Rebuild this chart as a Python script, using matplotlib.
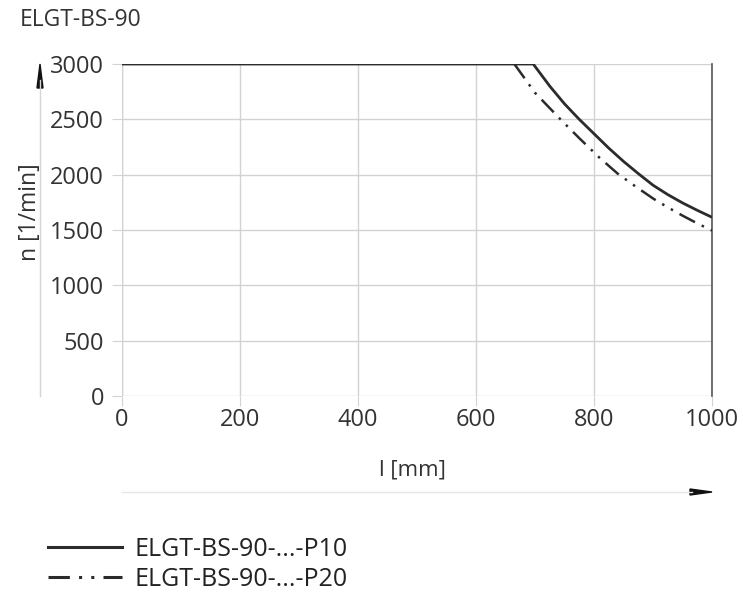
import numpy as np
from matplotlib import pyplot as plt

l_p10 = [0, 697, 725, 750, 775, 800, 825, 850, 875, 900, 925, 950, 975, 1000]
n_p10 = [3000, 3000, 2800, 2640, 2500, 2370, 2240, 2120, 2010, 1905, 1820, 1745, 1678, 1615]
l_p20 = [665, 700, 745, 775, 810, 840, 870, 900, 925, 950, 975, 1000]
n_p20 = [3000, 2740, 2490, 2330, 2150, 2010, 1895, 1785, 1705, 1630, 1560, 1495]

labels = ['ELGT-BS-90-...-P10', 'ELGT-BS-90-...-P20']
xticks = [0, 200, 400, 600, 800, 1000]
yticks = [0, 500, 1000, 1500, 2000, 2500, 3000]

W, H = 743, 598
plt.rcParams['font.family'] = ['Open Sans', 'DejaVu Sans']

def main():
    fig = plt.figure(figsize=(W / 100, H / 100), dpi=100)
    ax = fig.add_axes([122 / W, 1 - 396 / H, 590 / W, 332 / H])

    grid_col = '#d2d2d2'
    line_col = '#2b2b2b'
    ax.plot(l_p10, n_p10, color=line_col, lw=2.0, solid_capstyle='butt', zorder=3)
    ax.plot(l_p20, n_p20, color=line_col, lw=1.8, dashes=(7, 3, 1, 3, 1, 3), zorder=3)

    ax.set_xlim(0, 1000)
    ax.set_ylim(0, 3000)
    ax.set_xticks(xticks)
    ax.set_yticks(yticks)
    ax.grid(True, color=grid_col, lw=1.0)
    for s in ['top', 'bottom', 'left']:
        ax.spines[s].set_visible(False)
    ax.spines['right'].set_color('#555555')
    ax.spines['right'].set_linewidth(1.2)
    ax.axvline(0, color=grid_col, lw=1.0)
    ax.tick_params(axis='both', length=7, color=grid_col, labelsize=17,
                   labelcolor='#333333')
    ax.tick_params(axis='y', pad=6)
    ax.tick_params(axis='x', pad=2)

    fig.text(20 / W, 1 - 20 / H, 'ELGT-BS-90', fontsize=16.5, color='#333333',
             va='center', ha='left')
    fig.text(30 / W, 1 - 212 / H, 'n [1/min]', fontsize=16.5, color='#333333',
             rotation=90, va='center', ha='center')
    fig.text(412 / W, 1 - 470 / H, 'l [mm]', fontsize=16, color='#333333',
             va='center', ha='center')

    # axis arrows
    fig.add_artist(plt.Line2D([40 / W, 40 / W], [1 - 396 / H, 1 - 80 / H],
                              color='#d5d5d5', lw=1.0))
    fig.add_artist(plt.Polygon([[37 / W, 1 - 88 / H], [43 / W, 1 - 88 / H],
                                [40 / W, 1 - 64 / H]], color='#111111'))
    fig.add_artist(plt.Line2D([122 / W, 692 / W], [1 - 492 / H, 1 - 492 / H],
                              color='#e6e6e6', lw=1.0))
    fig.add_artist(plt.Polygon([[690 / W, 1 - 489 / H], [690 / W, 1 - 495 / H],
                                [712 / W, 1 - 492 / H]], color='#111111'))

    h1 = plt.Line2D([], [], color=line_col, lw=2.2)
    h2 = plt.Line2D([], [], color=line_col, lw=2.2, dashes=(7, 3, 1, 3, 1, 3))
    fig.legend([h1, h2], labels, loc='upper left',
               bbox_to_anchor=(48 / W, 1 - 537 / H), frameon=False,
               borderpad=0, borderaxespad=0,
               fontsize=18, handlelength=2.95, handletextpad=0.5,
               labelspacing=0.2, labelcolor='#222222')

    fig.savefig('out.png', dpi=100)

if __name__ == '__main__':
    main()
